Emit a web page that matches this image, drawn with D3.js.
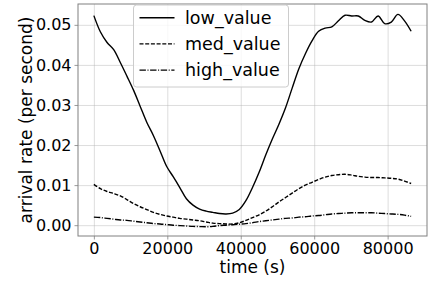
<!DOCTYPE html>
<html>
<head>
<meta charset="utf-8">
<script src="https://cdn.jsdelivr.net/npm/d3@7"></script>
<style>
  body { margin: 0; background: #fff; }
  svg { display: block; font-family: "DejaVu Sans", sans-serif; }
</style>
</head>
<body>
<div id="chart"></div>
<script>

// time axis (seconds), one sample every half hour
var times = [0, 1800, 3600, 5400, 7200, 9000, 10800, 12600, 14400, 16200, 18000, 19800,
  21600, 23400, 25200, 27000, 28800, 30600, 32400, 34200, 36000, 37800, 39600, 41400,
  43200, 45000, 46800, 48600, 50400, 52200, 54000, 55800, 57600, 59400, 61200, 63000,
  64800, 66600, 68400, 70200, 72000, 73800, 75600, 77400, 79200, 81000, 82800, 84600, 86400];

var lowValue = [0.0523, 0.0482, 0.0456, 0.0438, 0.0406, 0.0372, 0.0337, 0.0297, 0.0257, 0.0224,
  0.0186, 0.0147, 0.0121, 0.0094, 0.0066, 0.0050, 0.0040, 0.0035, 0.0032, 0.0029,
  0.0028, 0.0030, 0.0039, 0.0061, 0.0094, 0.0132, 0.0175, 0.0215, 0.0252, 0.0293,
  0.0342, 0.0390, 0.0428, 0.0460, 0.0484, 0.0492, 0.0495, 0.0510, 0.0524, 0.0522,
  0.0522, 0.0511, 0.0507, 0.0522, 0.0503, 0.0507, 0.0526, 0.0510, 0.0484];

var medValue = [0.0102, 0.0091, 0.0084, 0.0079, 0.0073, 0.0064, 0.0054, 0.0046, 0.0039, 0.0032,
  0.0027, 0.0023, 0.0020, 0.0017, 0.0015, 0.0013, 0.0011, 0.0008, 0.0005, 0.0004,
  0.0003, 0.0003, 0.0006, 0.0012, 0.0019, 0.0026, 0.0035, 0.0046, 0.0058, 0.0069,
  0.0080, 0.0091, 0.0100, 0.0107, 0.0114, 0.0120, 0.0124, 0.0126, 0.0127, 0.0125,
  0.0122, 0.0120, 0.0119, 0.0119, 0.0118, 0.0117, 0.0115, 0.0110, 0.0104];

var highValue = [0.0020, 0.0019, 0.0017, 0.0015, 0.0013, 0.0012, 0.0010, 0.0008, 0.0006, 0.0004,
  0.0003, 0.00015, 0.0000, -0.0001, -0.0002, -0.0003, -0.00035, -0.0004, -0.0003, -0.0001,
  0.0000, 0.0001, 0.00025, 0.0004, 0.0006, 0.0009, 0.0011, 0.0013, 0.0015, 0.0017,
  0.0018, 0.0020, 0.0021, 0.0023, 0.0024, 0.0026, 0.0028, 0.0029, 0.0030, 0.0031,
  0.0031, 0.0031, 0.0031, 0.0030, 0.0029, 0.0028, 0.0027, 0.0025, 0.0022];

var seriesNames = ["low_value", "med_value", "high_value"];
var seriesDash = ["none", "4,1.7", "6.4,1.6,1,1.6"];

var xTicks = [0, 20000, 40000, 60000, 80000];
var yTicks = [0.00, 0.01, 0.02, 0.03, 0.04, 0.05];

var width = 432, height = 286;
var margin = {top: 4, right: 5, bottom: 50, left: 78};
var plotW = width - margin.left - margin.right;
var plotH = height - margin.top - margin.bottom;

var svg = d3.select("#chart")
  .append("svg")
  .attr("width", width)
  .attr("height", height);

var xScale = d3.scaleLinear()
  .domain([-4320, 90720])
  .range([0, plotW]);

var yScale = d3.scaleLinear()
  .domain([-0.0027, 0.0552])
  .range([plotH, 0]);

var g = svg.append("g")
  .attr("transform", "translate(" + margin.left + "," + margin.top + ")");

// grid
g.append("g")
  .attr("class", "grid")
  .attr("transform", "translate(0," + plotH + ")")
  .call(d3.axisBottom(xScale).tickValues(xTicks).tickSize(-plotH).tickFormat(""))
  .call(function (s) { s.select(".domain").remove(); });

g.append("g")
  .attr("class", "grid")
  .call(d3.axisLeft(yScale).tickValues(yTicks).tickSize(-plotW).tickFormat(""))
  .call(function (s) { s.select(".domain").remove(); });

g.selectAll(".grid line")
  .attr("stroke", "#b0b0b0")
  .attr("stroke-opacity", 0.55)
  .attr("stroke-width", 0.8);

// lines
var allSeries = [lowValue, medValue, highValue];

var line = d3.line()
  .x(function (d, i) { return xScale(times[i]); })
  .y(function (d) { return yScale(d); })
  .curve(d3.curveCatmullRom);

allSeries.forEach(function (vals, k) {
  g.append("path")
    .datum(vals)
    .attr("fill", "none")
    .attr("stroke", "#000")
    .attr("stroke-width", 1.4)
    .attr("stroke-dasharray", seriesDash[k])
    .attr("d", line);
});

// axes
var xAxis = g.append("g")
  .attr("transform", "translate(0," + plotH + ")")
  .call(d3.axisBottom(xScale).tickValues(xTicks).tickSize(3.5).tickPadding(3).tickFormat(d3.format("d")));

var yAxis = g.append("g")
  .call(d3.axisLeft(yScale).tickValues(yTicks).tickSize(3.5).tickPadding(3).tickFormat(d3.format(".2f")));

[xAxis, yAxis].forEach(function (a) {
  a.select(".domain").remove();
  a.selectAll("line").attr("stroke", "#808080").attr("stroke-width", 0.8);
  a.selectAll("text")
    .attr("fill", "#000")
    .style("font-family", "DejaVu Sans")
    .style("font-size", "16px");
});

// frame
g.append("rect")
  .attr("x", 0)
  .attr("y", 0)
  .attr("width", plotW)
  .attr("height", plotH)
  .attr("fill", "none")
  .attr("stroke", "#808080")
  .attr("stroke-width", 1);

// axis labels
svg.append("text")
  .attr("x", margin.left + plotW / 2)
  .attr("y", 273)
  .style("text-anchor", "middle")
  .style("font-size", "17px")
  .text("time (s)");

svg.append("text")
  .attr("transform", "translate(31.5," + (margin.top + plotH / 2) + ") rotate(-90)")
  .style("text-anchor", "middle")
  .style("font-size", "17px")
  .text("arrival rate (per second)");

// legend
var legend = svg.append("g")
  .attr("transform", "translate(133.5,5)");

legend.append("rect")
  .attr("width", 155)
  .attr("height", 82)
  .attr("rx", 3)
  .attr("fill", "#fff")
  .attr("fill-opacity", 0.8)
  .attr("stroke", "#cccccc")
  .attr("stroke-width", 1);

seriesNames.forEach(function (name, k) {
  var cy = 12.7 + k * 26.2;
  legend.append("line")
    .attr("x1", 6)
    .attr("x2", 41)
    .attr("y1", cy)
    .attr("y2", cy)
    .attr("stroke", "#000")
    .attr("stroke-width", 1.4)
    .attr("stroke-dasharray", seriesDash[k]);
  legend.append("text")
    .attr("x", 51.5)
    .attr("y", cy)
    .attr("dy", "0.36em")
    .style("font-size", "17.5px")
    .text(name);
});

</script>
</body>
</html>
